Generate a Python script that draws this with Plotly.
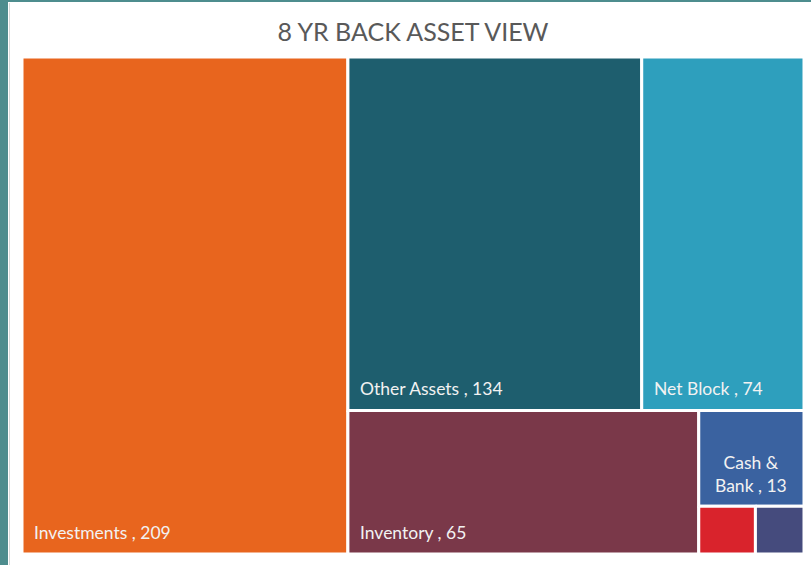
import plotly.graph_objects as go

# Asset breakdown, eight years back
categories = ["Investments", "Other Assets", "Net Block", "Inventory", "Cash & Bank",
              "Loans & Advances", "Other Current Assets"]
values = [209, 134, 74, 65, 13, 3.5, 3.0]
show_label = [True, True, True, True, True, False, False]
colors = ["#E8651E", "#1E5E6E", "#2E9FBD", "#7A3849", "#3A62A0", "#D9232C", "#454B7D"]

title_text = "8 YR BACK ASSET VIEW"

W, H = 811, 565
margin = dict(l=22, r=7, t=57, b=11)
BOX_W = W - margin["l"] - margin["r"]
BOX_H = H - margin["t"] - margin["b"]


def squarify(vals, x0, y0, x1, y1, ratio=1.2):
    """Squarified treemap tiling (d3-hierarchy style) returning one cell per value."""
    cells = [None] * len(vals)
    idx = sorted(range(len(vals)), key=lambda i: -vals[i])
    total = sum(vals)
    i0 = 0
    n = len(idx)
    while i0 < n:
        dx, dy = x1 - x0, y1 - y0
        i1 = i0
        s = vals[idx[i1]]
        i1 += 1
        mn = mx = s
        alpha = max(dy / dx, dx / dy) / (total * ratio)
        beta = s * s * alpha
        min_ratio = max(mx / beta, beta / mn)
        while i1 < n:
            v = vals[idx[i1]]
            s2 = s + v
            mn2, mx2 = min(mn, v), max(mx, v)
            beta = s2 * s2 * alpha
            new_ratio = max(mx2 / beta, beta / mn2)
            if new_ratio > min_ratio:
                break
            s, mn, mx, min_ratio = s2, mn2, mx2, new_ratio
            i1 += 1
        row = idx[i0:i1]
        if dx < dy:
            # horizontal row along the top
            yb = y0 + dy * s / total if i1 < n else y1
            cx = x0
            for k in row:
                w = dx * vals[k] / s
                cells[k] = (cx, y0, cx + w, yb)
                cx += w
            y0 = yb
        else:
            # vertical column along the left
            xb = x0 + dx * s / total if i1 < n else x1
            cy = y0
            for k in row:
                h = dy * vals[k] / s
                cells[k] = (x0, cy, xb, cy + h)
                cy += h
            x0 = xb
        total -= s
        i0 = i1
    return cells


cells = squarify(values, 0, 0, BOX_W, BOX_H)

fig = go.Figure()
for name, val, col, (cx0, cy0, cx1, cy1) in zip(categories, values, colors, cells):
    fig.add_trace(go.Scatter(
        x=[cx0, cx1, cx1, cx0, cx0], y=[cy0, cy0, cy1, cy1, cy0],
        mode="lines", fill="toself", fillcolor=col,
        line=dict(color="white", width=3),
        name=name, hoveron="fills", hoverinfo="text",
        text=f"{name}: {val:g}", showlegend=False,
    ))

label_font = dict(family="Lato", size=17.5, color="#F2F2F2")
for name, val, show, (cx0, cy0, cx1, cy1) in zip(categories, values, show_label, cells):
    if not show:
        continue
    if (cx1 - cx0) < 150:
        # narrow tile: wrapped, centred label
        fig.add_annotation(x=(cx0 + cx1) / 2, y=(cy0 + cy1) / 2, xref="x", yref="y",
                           text=name.replace(" & ", " &<br>") + f" , {val:g}",
                           showarrow=False, xanchor="center", yanchor="middle",
                           align="center", yshift=-16, font=label_font)
    else:
        fig.add_annotation(x=cx0, y=cy1, xref="x", yref="y",
                           text=f"{name} , {val:g}", showarrow=False,
                           xanchor="left", yanchor="bottom", xshift=10, yshift=9,
                           font=label_font)

# Frame strips around the white chart area
px_x = lambda p: (p - margin["l"]) / BOX_W
px_y = lambda p: 1 - (p - margin["t"]) / BOX_H
fig.add_shape(type="rect", xref="paper", yref="paper",
              x0=px_x(0), x1=px_x(8), y0=px_y(H), y1=px_y(0),
              fillcolor="#4E8D8E", line_width=0, layer="above")
fig.add_shape(type="rect", xref="paper", yref="paper",
              x0=px_x(0), x1=px_x(W), y0=px_y(2), y1=px_y(0),
              fillcolor="#4E8D8E", line_width=0, layer="above")
fig.add_shape(type="line", xref="paper", yref="paper",
              x0=px_x(9.5), x1=px_x(9.5), y0=px_y(H), y1=px_y(3),
              line=dict(color="#D9D9D9", width=1), layer="above")

fig.update_xaxes(range=[0, BOX_W], visible=False, fixedrange=True)
fig.update_yaxes(range=[BOX_H, 0], visible=False, fixedrange=True)

fig.update_layout(
    width=W, height=H,
    margin=margin,
    paper_bgcolor="white",
    plot_bgcolor="white",
    title=dict(text=title_text, x=0.5, xref="paper", xanchor="center",
               y=1 - 32 / H, yanchor="middle",
               font=dict(family="Lato", size=25, color="#595959")),
)

fig.write_html("out.html")
